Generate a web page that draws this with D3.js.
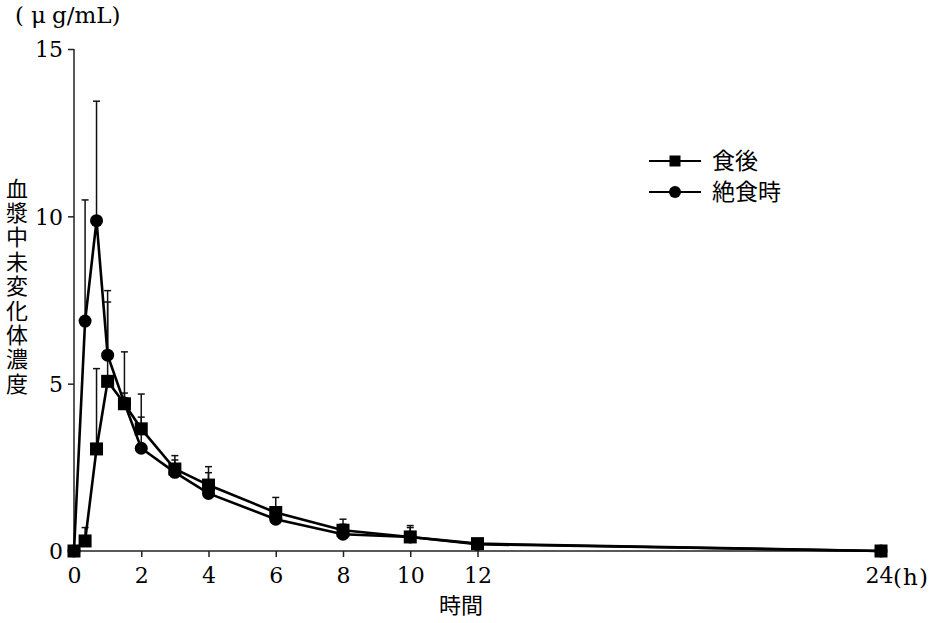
<!DOCTYPE html>
<html><head><meta charset="utf-8">
<script src="https://cdn.jsdelivr.net/npm/d3@7"></script>
<style>
html,body{margin:0;padding:0;background:#fff;}
svg{display:block;}
</style></head>
<body>
<script>
const times = [0, 0.33, 0.67, 1, 1.5, 2, 3, 4, 6, 8, 10, 12, 24];
const fed = [0, 0.3, 3.05, 5.07, 4.4, 3.65, 2.45, 1.97, 1.15, 0.62, 0.42, 0.22, 0];
const fedSD = [0, 0.4, 2.4, 2.37, 1.55, 1.04, 0.4, 0.55, 0.45, 0.33, 0.34, 0, 0];
const fasted = [0, 6.87, 9.87, 5.85, 4.42, 3.07, 2.35, 1.72, 0.95, 0.5, 0.42, 0.2, 0];
const fastedSD = [0, 3.62, 3.57, 1.93, 0.3, 0.93, 0.37, 0.62, 0.25, 0.3, 0.28, 0, 0];
const seriesNames = ["食後", "絶食時"];
const xTicks = [0, 2, 4, 6, 8, 10, 12, 24];
const yTicks = [0, 5, 10, 15];
const yLabelText = "血漿中未変化体濃度";
const xLabelText = "時間";
const unitParts = ["(", "μ", "g/mL)"];
const hourParts = ["(", "h", ")"];

const W = 937, H = 623;
const svg = d3.select("body").append("svg").attr("width", W).attr("height", H);
const x = d3.scaleLinear().domain([0, 24]).range([74, 881]);
const y = d3.scaleLinear().domain([0, 15]).range([551, 49]);
const numFont = "DejaVu Serif";
const cjkFont = "Noto Sans CJK JP";

// axes
const yAxis = svg.append("g").attr("transform", "translate(74,0)")
  .call(d3.axisLeft(y).tickValues(yTicks).tickSize(6).tickPadding(6).tickFormat(d3.format("d")));
const xAxis = svg.append("g").attr("transform", "translate(0,551)")
  .call(d3.axisBottom(x).tickValues(xTicks).tickSize(6).tickPadding(6).tickFormat(d3.format("d")));
[yAxis, xAxis].forEach(g => {
  g.attr("font-family", numFont).attr("font-size", 22);
  g.select(".domain").attr("stroke", "#222").attr("stroke-width", 1.5);
  g.selectAll(".tick line").attr("stroke", "#222").attr("stroke-width", 1.5);
  g.selectAll(".tick text").attr("fill", "#000").attr("font-family", numFont).attr("font-size", 22);
});
yAxis.selectAll(".tick text").attr("dy", "0.36em").attr("x", -11);
xAxis.selectAll(".tick text").attr("dy", "0.9em");
xAxis.selectAll(".tick text").filter(d => d === 24).attr("dx", -2);
xAxis.select(".domain").attr("d", `M${x(0)},0H${x(24)}`);
yAxis.select(".domain").attr("d", `M0,${y(15)}V${y(0)}`);

// (h) after 24
const hx = [893, 903, 919];
const ht = svg.append("text").attr("y", 585).attr("font-family", numFont).attr("font-size", 23);
hourParts.forEach((p, i) => ht.append("tspan").attr("x", hx[i]).text(p));

// unit label
const ux = [15, 31, 52];
const ut = svg.append("text").attr("y", 23).attr("font-family", numFont).attr("font-size", 23);
unitParts.forEach((p, i) => ut.append("tspan").attr("x", ux[i]).text(p));

// y label vertical
svg.append("text").attr("x", 17).attr("y", 287)
  .attr("font-family", cjkFont).attr("font-size", 22)
  .attr("text-anchor", "middle")
  .style("writing-mode", "vertical-rl")
  .style("letter-spacing", "2.4px")
  .text(yLabelText);

// x label
svg.append("text").attr("x", 461).attr("y", 613).attr("text-anchor", "middle")
  .attr("font-family", cjkFont).attr("font-size", 22).text(xLabelText);

const line = d3.line().x(d => x(d[0])).y(d => y(d[1]));

function drawErr(vals, sds) {
  const g = svg.append("g").attr("stroke", "#111").attr("stroke-width", 1.5).attr("fill", "none");
  times.forEach((t, i) => {
    if (sds[i] <= 0) return;
    const xx = x(t), y0 = y(vals[i]), y1 = y(vals[i] + sds[i]);
    g.append("line").attr("x1", xx).attr("x2", xx).attr("y1", y0).attr("y2", y1);
    g.append("line").attr("x1", xx - 3.5).attr("x2", xx + 3.5).attr("y1", y1).attr("y2", y1);
  });
}
drawErr(fasted, fastedSD);
drawErr(fed, fedSD);

const fastedPts = times.map((t, i) => [t, fasted[i]]);
const fedPts = times.map((t, i) => [t, fed[i]]);

svg.append("path").datum(fastedPts).attr("d", line).attr("fill", "none").attr("stroke", "#000").attr("stroke-width", 2.6);
svg.append("path").datum(fedPts).attr("d", line).attr("fill", "none").attr("stroke", "#000").attr("stroke-width", 2.6);

svg.append("g").selectAll("circle").data(fastedPts).join("circle")
  .attr("cx", d => x(d[0])).attr("cy", d => y(d[1])).attr("r", 6.5).attr("fill", "#000");
svg.append("g").selectAll("rect").data(fedPts).join("rect")
  .attr("x", d => x(d[0]) - 6.5).attr("y", d => y(d[1]) - 6.5).attr("width", 13).attr("height", 13).attr("fill", "#000");

// legend
const lg = svg.append("g");
const legY = [161, 192];
seriesNames.forEach((name, i) => {
  lg.append("line").attr("x1", 649).attr("x2", 701).attr("y1", legY[i]).attr("y2", legY[i])
    .attr("stroke", "#000").attr("stroke-width", 2);
  if (i === 0) {
    lg.append("rect").attr("x", 675 - 5.5).attr("y", legY[i] - 5.5).attr("width", 11).attr("height", 11).attr("fill", "#000");
  } else {
    lg.append("circle").attr("cx", 675).attr("cy", legY[i]).attr("r", 6).attr("fill", "#000");
  }
  lg.append("text").attr("x", 712).attr("y", legY[i]).attr("dy", "0.36em")
    .attr("font-family", cjkFont).attr("font-size", 23).text(name);
});
</script>
</body></html>
